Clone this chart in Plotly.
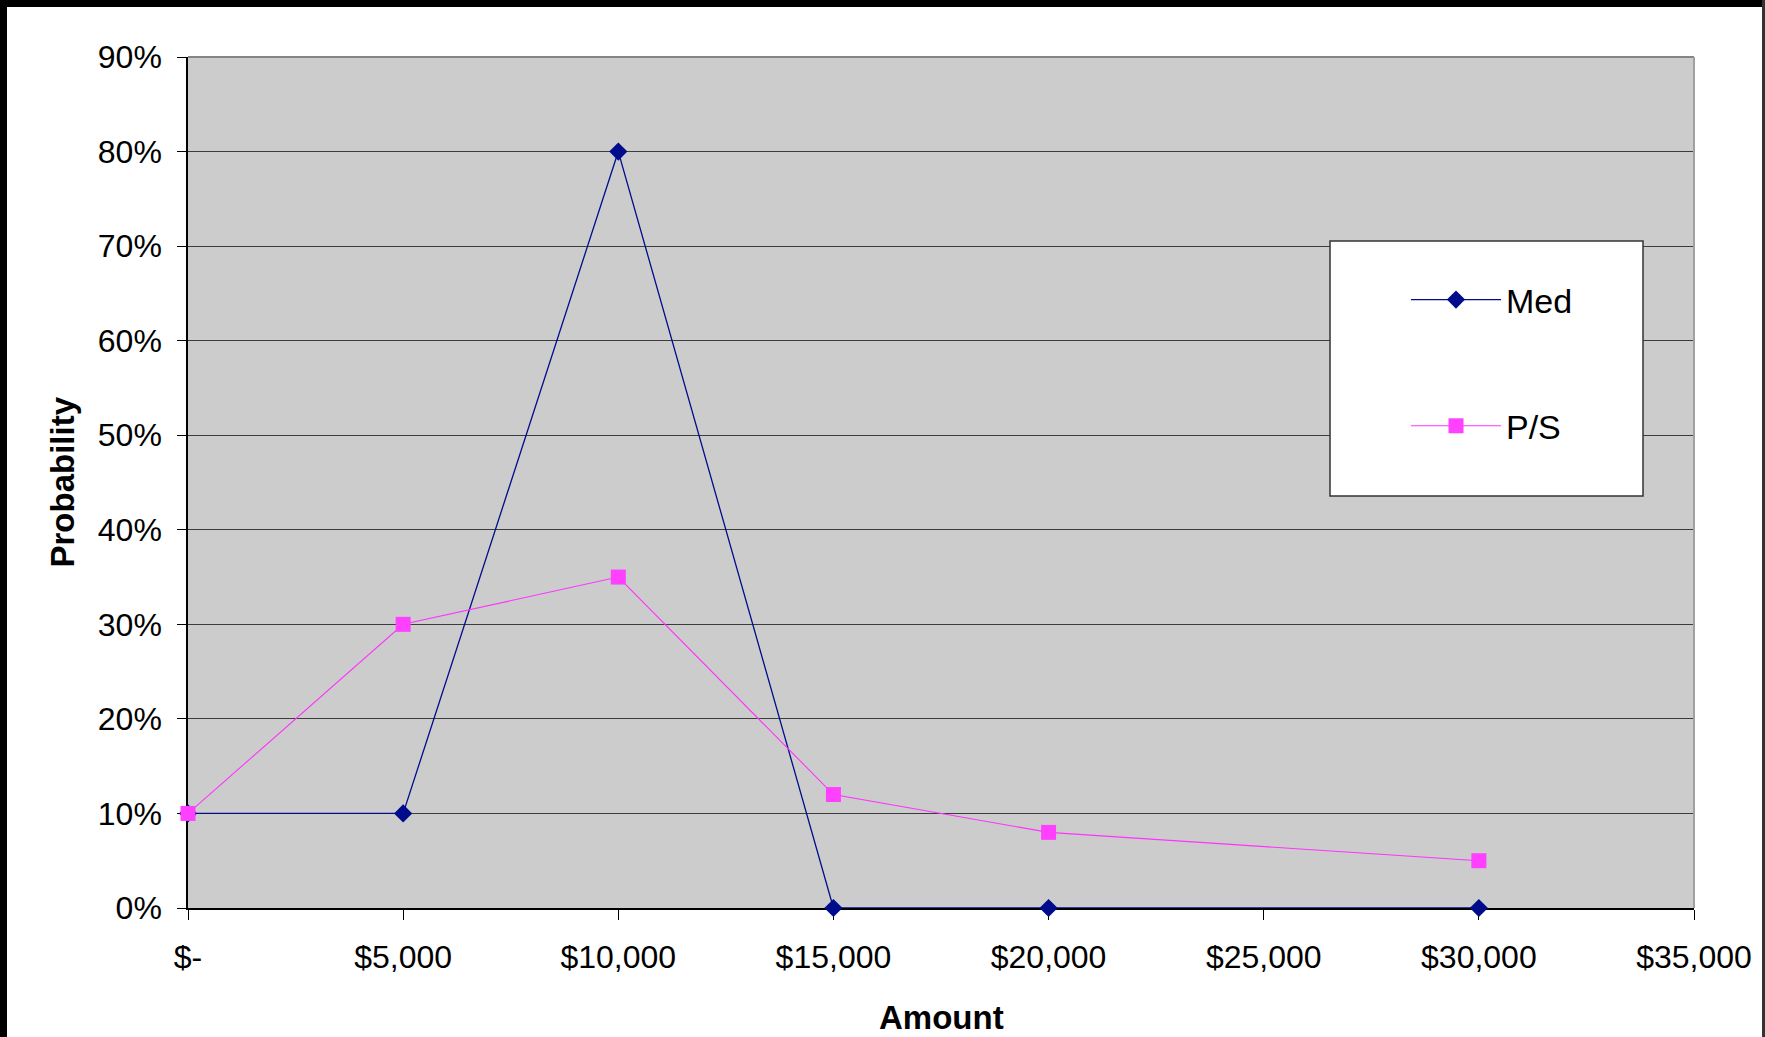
import plotly.graph_objects as go

amounts = [0, 5000, 10000, 15000, 20000, 30000]
med = [0.10, 0.10, 0.80, 0.00, 0.00, 0.00]
ps = [0.10, 0.30, 0.35, 0.12, 0.08, 0.05]

x_tickvals = [0, 5000, 10000, 15000, 20000, 25000, 30000, 35000]
x_ticktext = ["$-", "$5,000", "$10,000", "$15,000", "$20,000", "$25,000", "$30,000", "$35,000"]
y_tickvals = [0, 0.1, 0.2, 0.3, 0.4, 0.5, 0.6, 0.7, 0.8, 0.9]
x_title = "Amount"
y_title = "Probability"

W, H = 1765, 1037
ML, MR, MT, MB = 188, 71, 57, 129
PW, PH = W - ML - MR, H - MT - MB

def px_x(p):
    return (p - ML) / PW

def px_y(p):
    return (H - MB - p) / PH

FONT = "Liberation Sans, Arial, sans-serif"
MED_COLOR = "#000C8C"
PS_COLOR = "#FF33FF"

fig = go.Figure()
fig.add_trace(go.Scatter(
    x=amounts, y=med, name="Med", mode="lines+markers",
    line=dict(color=MED_COLOR, width=1.3),
    marker=dict(symbol="diamond", size=14, color=MED_COLOR),
    cliponaxis=False, legendgroup="a",
))
fig.add_trace(go.Scatter(
    x=amounts, y=ps, name="P/S", mode="lines+markers",
    line=dict(color=PS_COLOR, width=1.1),
    marker=dict(symbol="square", size=15, color="#FF40FF"),
    cliponaxis=False, legendgroup="b",
))

shapes = [
    # legend box
    dict(type="rect", xref="paper", yref="paper",
         x0=px_x(1330), x1=px_x(1643), y0=px_y(496), y1=px_y(241),
         fillcolor="white", line=dict(color="#333333", width=1.5), layer="above"),
    # plot area top/right border
    dict(type="line", xref="paper", yref="paper", x0=0, x1=1, y0=1, y1=1,
         line=dict(color="#858585", width=2), layer="above"),
    dict(type="line", xref="paper", yref="paper", x0=1, x1=1, y0=0, y1=1,
         line=dict(color="#A0A0A0", width=2), layer="above"),
    # outer frame
    dict(type="rect", xref="paper", yref="paper",
         x0=px_x(0), x1=px_x(7), y0=px_y(H), y1=px_y(0),
         fillcolor="black", line=dict(width=0), layer="above"),
    dict(type="rect", xref="paper", yref="paper",
         x0=px_x(0), x1=px_x(W), y0=px_y(7), y1=px_y(0),
         fillcolor="black", line=dict(width=0), layer="above"),
    dict(type="rect", xref="paper", yref="paper",
         x0=px_x(W - 3), x1=px_x(W), y0=px_y(H), y1=px_y(0),
         fillcolor="#333333", line=dict(width=0), layer="above"),
]

annotations = [
    dict(text="<b>" + x_title + "</b>", xref="paper", yref="paper",
         x=0.5, y=px_y(1037), xanchor="center", yanchor="bottom", borderpad=0,
         showarrow=False, font=dict(size=33)),
    dict(text="<b>" + y_title + "</b>", xref="paper", yref="paper",
         x=px_x(62), y=0.5, xanchor="center", yanchor="middle", textangle=-90,
         showarrow=False, font=dict(size=33)),
]

fig.update_layout(
    width=W, height=H,
    margin=dict(l=ML, r=MR, t=MT, b=MB, pad=0),
    paper_bgcolor="white", plot_bgcolor="#CCCCCC",
    font=dict(family=FONT, size=32, color="black"),
    showlegend=True,
    legend=dict(
        x=px_x(1406), y=px_y(271), xanchor="left", yanchor="top",
        bgcolor="rgba(0,0,0,0)", borderwidth=0,
        font=dict(size=34), tracegroupgap=79, itemwidth=90,
    ),
    shapes=shapes,
    annotations=annotations,
    xaxis=dict(
        range=[0, 35000], tickvals=x_tickvals, ticktext=x_ticktext,
        showgrid=False, zeroline=False,
        showline=True, linecolor="black", linewidth=1.5,
        ticks="outside", ticklen=10, tickcolor="black", tickwidth=1.2,
        ticklabelstandoff=10,
        layer="below traces", automargin=False,
    ),
    yaxis=dict(
        range=[0, 0.9], tickvals=y_tickvals, tickformat=".0%",
        showgrid=True, gridcolor="#3C3C3C", gridwidth=1.2,
        zeroline=False,
        showline=True, linecolor="black", linewidth=1.5,
        ticks="outside", ticklen=9, tickcolor="black", tickwidth=1.2,
        ticklabelstandoff=9,
        layer="below traces", automargin=False,
    ),
)

fig.write_html("out.html")
